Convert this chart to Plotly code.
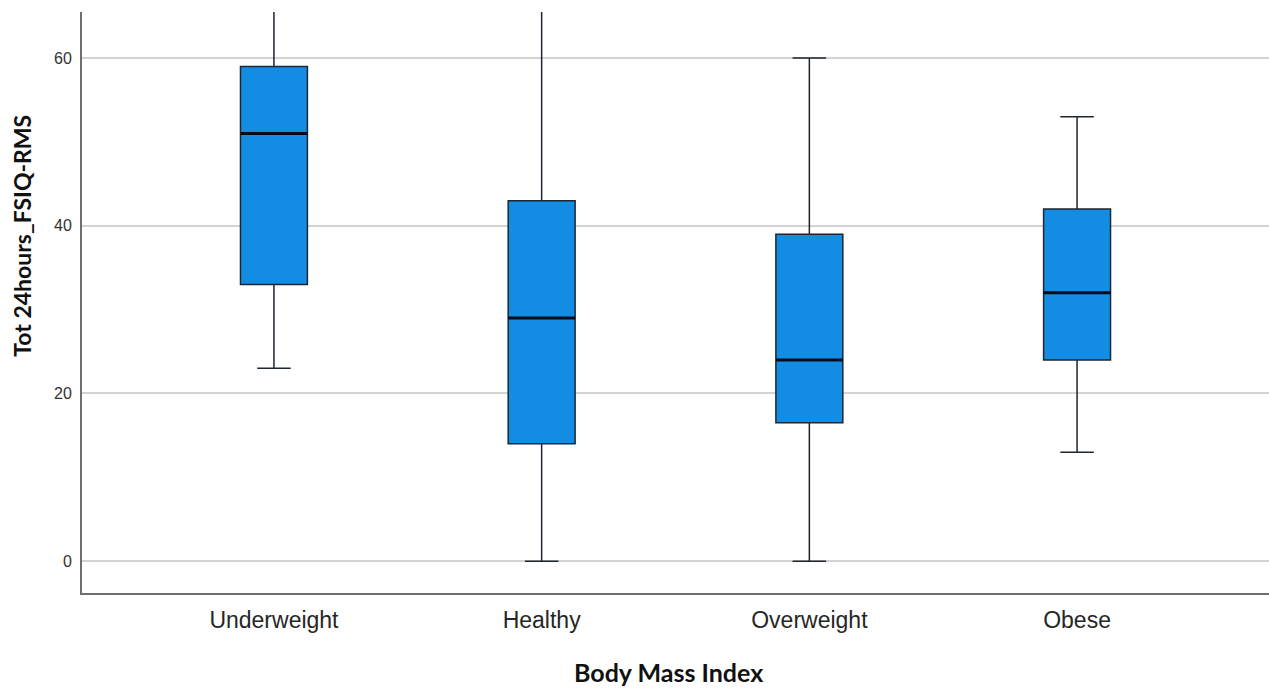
import plotly.graph_objects as go

# Body mass index groups and five-number summaries of Tot 24hours_FSIQ-RMS
categories = ["Underweight", "Healthy", "Overweight", "Obese"]
q1_vals = [33, 14, 16.5, 24]
median_vals = [51, 29, 24, 32]
q3_vals = [59, 43, 39, 42]
lower_whisker = [23, 0, 0, 13]
upper_whisker = [76, 80, 60, 53]
y_ticks = [0, 20, 40, 60]

BOX_FILL = "#138de3"
EDGE = "#1e2630"

fig = go.Figure()

# main boxes with whiskers
fig.add_trace(go.Box(
    x=categories,
    q1=q1_vals,
    median=median_vals,
    q3=q3_vals,
    lowerfence=lower_whisker,
    upperfence=upper_whisker,
    width=0.25,
    whiskerwidth=0.5,
    fillcolor=BOX_FILL,
    line=dict(color=EDGE, width=1.5),
    boxpoints=False,
    hoverinfo="skip",
    showlegend=False,
))

# heavier median bars drawn on top of the boxes
fig.add_trace(go.Box(
    x=categories,
    q1=median_vals,
    median=median_vals,
    q3=median_vals,
    lowerfence=median_vals,
    upperfence=median_vals,
    width=0.25,
    whiskerwidth=0,
    fillcolor="rgba(0,0,0,0)",
    line=dict(color="#050d1a", width=3),
    boxpoints=False,
    hoverinfo="skip",
    showlegend=False,
))

fig.update_layout(
    width=1269,
    height=689,
    margin=dict(l=82, r=0, t=12, b=96),
    paper_bgcolor="white",
    plot_bgcolor="white",
    font=dict(family="Liberation Sans, Arial, sans-serif", color="#222222"),
    xaxis=dict(
        type="category",
        range=[-0.717, 3.717],
        showgrid=False,
        showline=True,
        linecolor="#6e6e6e",
        linewidth=2,
        ticks="",
        tickfont=dict(size=23, color="#262626"),
        ticklabelstandoff=5,
    ),
    yaxis=dict(
        range=[-3.8, 65.5],
        tickvals=y_ticks,
        showgrid=True,
        gridcolor="#d3d3d3",
        gridwidth=2,
        zeroline=False,
        showline=True,
        linecolor="#6e6e6e",
        linewidth=2,
        ticks="",
        tickfont=dict(size=16, color="#333333"),
        ticklabelstandoff=5,
    ),
    annotations=[
        dict(
            text="<b>Tot 24hours_FSIQ-RMS</b>",
            xref="paper", yref="paper",
            x=-0.0505, y=0.615,
            xanchor="center", yanchor="middle",
            textangle=-90,
            showarrow=False,
            font=dict(family="Lato, Open Sans, sans-serif", size=23, color="#111111"),
        ),
        dict(
            text="<b>Body Mass Index</b>",
            xref="paper", yref="paper",
            x=0.4945, y=-0.164,
            xanchor="center", yanchor="bottom",
            showarrow=False,
            borderpad=0,
            font=dict(family="Lato, Open Sans, sans-serif", size=25, color="#111111"),
        ),
    ],
)

fig.write_html("out.html")
